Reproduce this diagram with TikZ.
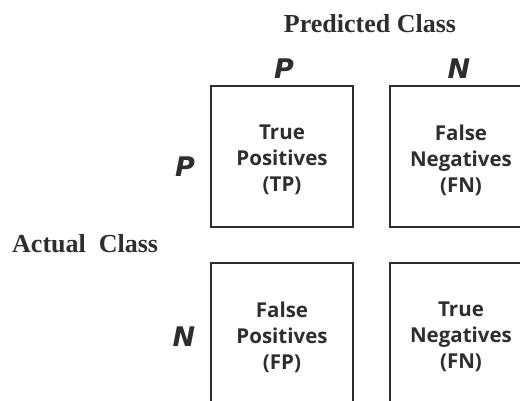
\documentclass[tikz,border=0pt]{standalone}
\usepackage{fontspec}
\setmainfont{Liberation Serif}
\newfontfamily\cellfont{Open Sans}
\newfontfamily\labfont{DejaVu Sans}
\definecolor{ink}{HTML}{2E2E2E}
\begin{document}
\begin{tikzpicture}[x=1pt,y=-1pt,
  cell/.style={draw=ink, line width=2.5pt, minimum width=142pt, minimum height=141pt, inner sep=0pt},
  celltext/.style={align=center, text=ink, inner sep=0pt, yshift=-3.5pt,
    font=\cellfont\bfseries\fontsize{20.5}{26}\selectfont},
  axislab/.style={text=ink, font=\labfont\bfseries\itshape\fontsize{27}{30}\selectfont, inner sep=0pt},
  title/.style={text=ink, font=\bfseries\fontsize{26}{30}\selectfont, inner sep=0pt}]
\useasboundingbox (0,0) rectangle (520,400);
\clip (0,0) rectangle (520,400);
\node[title] (pred) at (370,24) {Predicted Class};
\node[title, anchor=west] (act) at (12,244) {Actual\ \ Class};
\node[axislab] (pp) at (284,69) {P};
\node[axislab] (pn) at (459,69) {N};
\node[axislab] (ap) at (185,167) {P};
\node[axislab] (an) at (184,337) {N};
\node[cell, label={[celltext]center:True\\Positives\\(TP)}] (tp) at (282,156.5) {};
\node[cell, label={[celltext]center:False\\Negatives\\(FN)}] (fn) at (461,156.5) {};
\node[cell, label={[celltext]center:False\\Positives\\(FP)}] (fp) at (282,333.5) {};
\node[cell, label={[celltext]center:True\\Negatives\\(FN)}] (tn) at (461,333.5) {};
\end{tikzpicture}
\end{document}
